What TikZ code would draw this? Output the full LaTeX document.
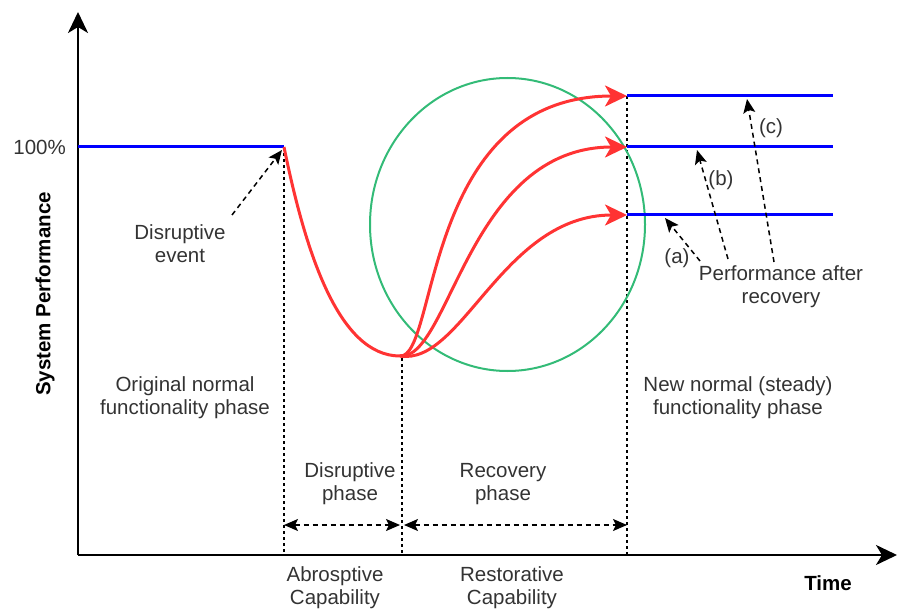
\documentclass[tikz,border=0pt]{standalone}
\usepackage{fontspec}
\setmainfont{Liberation Sans}
\usetikzlibrary{arrows.meta, positioning}

\definecolor{lineblue}{HTML}{0000FF}
\definecolor{curvered}{HTML}{FF3333}
\definecolor{ringgreen}{HTML}{33BB77}
\definecolor{txtgrey}{HTML}{333333}

\begin{document}
\begin{tikzpicture}[x=1pt, y=-1pt,
    axis/.style={line width=2.5pt, -{Stealth[length=21pt, width=20pt, inset=6pt]}},
    level/.style={lineblue, line width=3pt},
    drop/.style={curvered, line width=3pt},
    recov/.style={curvered, line width=3pt, -{Stealth[length=22pt, width=21pt, inset=6pt]}},
    guide/.style={line width=1.5pt, dash pattern=on 3pt off 3pt},
    pointer/.style={line width=1.5pt, dash pattern=on 5pt off 4pt, -{Stealth[length=14pt, width=12pt, inset=3pt]}},
    span/.style={line width=1.5pt, dash pattern=on 5pt off 4pt, {Stealth[length=14pt, width=12pt, inset=3pt]}-{Stealth[length=14pt, width=12pt, inset=3pt]}},
    lbl/.style={text=txtgrey, align=center, inner sep=0pt, font=\fontsize{20.5}{23}\selectfont},
    axlbl/.style={align=center, inner sep=0pt, font=\fontsize{20.5}{23}\selectfont\bfseries}
  ]
  \useasboundingbox (0,0) rectangle (899,612);

  % axes
  \coordinate (O) at (78,555);
  \coordinate (ytop) at (78,12);
  \coordinate (xend) at (897,555);
  \draw[axis] (O) -- (ytop);
  \draw[axis] (O) -- (xend);

  % key points of the curve
  \coordinate (ylev) at (78,147);
  \coordinate (d0) at (284,147);
  \coordinate (dmin) at (400,356);
  \coordinate (ra) at (627,215);
  \coordinate (rb) at (627,147);
  \coordinate (rc) at (627,96);
  \coordinate (ea) at (833,215);
  \coordinate (eb) at (833,147);
  \coordinate (ec) at (833,96);
  \coordinate (t1) at (284,555);
  \coordinate (t2) at (402,555);
  \coordinate (t3) at (627,555);
  \coordinate (m2) at (402,358);

  % phase boundaries
  \draw[guide] (d0) -- (t1);
  \draw[guide] (m2) -- (t2);
  \draw[guide] (rc) -- (t3);

  % recovery region
  \draw[ringgreen, line width=2pt] (507.5,224.5) ellipse [x radius=137.5pt, y radius=146.5pt];

  % performance levels
  \draw[level] (ylev) -- (d0);
  \draw[level] (ra) -- (ea);
  \draw[level] (rb) -- (eb);
  \draw[level] (rc) -- (ec);

  \draw[drop] (d0) .. controls (305,250) and (338,356) .. (dmin);
  \draw[recov] (dmin) .. controls (438,358) and (422,96) .. (rc);
  \draw[recov] (dmin) .. controls (450,360) and (468,147) .. (rb);
  \draw[recov] (dmin) .. controls (462,366) and (503,215) .. (ra);

  % phase spans
  \coordinate (s1) at (284,525);
  \coordinate (s2) at (400,525);
  \coordinate (s3) at (404,525);
  \coordinate (s4) at (627,525);
  \draw[span] (s1) -- (s2);
  \draw[span] (s3) -- (s4);

  % labels
  \node[lbl, anchor=east] (pct) at (66,147) {100\%};
  \node[axlbl, rotate=90] (ylab) at (45,294) {System Performance};
  \node[axlbl] (xlab) at (828,583) {Time};
  \node[lbl] (evt) at (180,244) {Disruptive\\event};
  \node[lbl] (orig) at (185,398) {Original normal\\functionality phase};
  \node[lbl] (dphase) at (350,484) {Disruptive\\phase};
  \node[lbl] (rphase) at (503,484) {Recovery\\phase};
  \node[lbl] (abs) at (335,588) {Abrosptive\\Capability};
  \node[lbl] (rest) at (512,588) {Restorative\\Capability};
  \node[lbl] (newn) at (738,398) {New normal (steady)\\functionality phase};
  \node[lbl] (after) at (781,287) {Performance after\\recovery};
  \node[lbl] (la) at (677,258) {(a)};
  \node[lbl] (lb) at (721,180) {(b)};
  \node[lbl] (lc) at (771,128) {(c)};

  % pointers
  \coordinate (evtTail) at (232,215);
  \coordinate (evtTip) at (282,150);
  \coordinate (aTail) at (700,261);
  \coordinate (aTip) at (665,218);
  \coordinate (bTail) at (728,259);
  \coordinate (bTip) at (697,150);
  \coordinate (cTail) at (774,262);
  \coordinate (cTip) at (747,99);
  \draw[pointer] (evtTail) -- (evtTip);
  \draw[pointer] (aTail) -- (aTip);
  \draw[pointer] (bTail) -- (bTip);
  \draw[pointer] (cTail) -- (cTip);
\end{tikzpicture}
\end{document}
